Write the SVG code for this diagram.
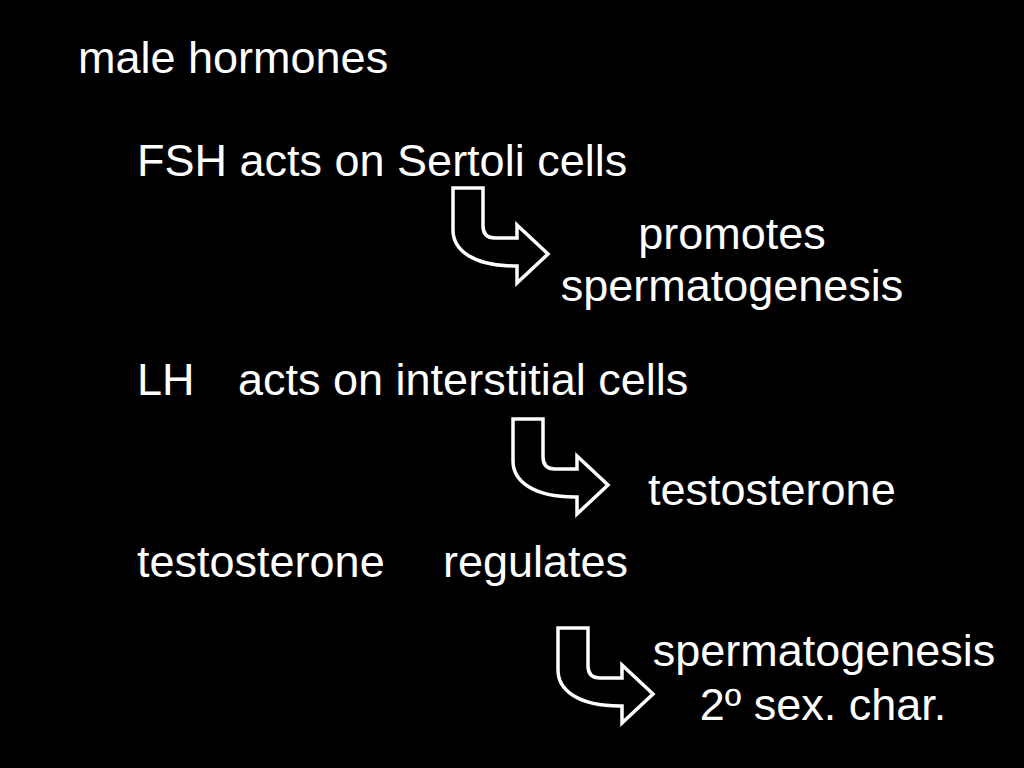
<svg xmlns="http://www.w3.org/2000/svg" width="1024" height="768" viewBox="0 0 1024 768">
<defs>
<style>
text{font-family:"Liberation Sans",Arial,sans-serif;font-size:45px;fill:#fff}
.c{text-anchor:middle}
.arr{fill:none;stroke:#fff;stroke-width:3.5;stroke-linejoin:miter}
</style>
<path id="bent" d="M0,0 H30 V38 Q30,50 42,50 H64 V37 L95,66 L64,95 V78 H62 C20,78 0,62 0,42 Z"/>
</defs>
<rect width="1024" height="768" fill="#000"/>
<g id="title"><text x="78" y="73">male hormones</text></g>
<g id="fsh"><text x="137" y="176">FSH acts on Sertoli cells</text></g>
<g id="promotes"><text class="c" x="732" y="249">promotes</text><text class="c" x="732" y="301">spermatogenesis</text></g>
<g id="lh"><text x="137" y="395">LH</text><text x="238" y="395">acts on interstitial cells</text></g>
<g id="testo1"><text x="648" y="505">testosterone</text></g>
<g id="testo2"><text x="137" y="577">testosterone</text><text x="443" y="577">regulates</text></g>
<g id="effects"><text class="c" x="824" y="666">spermatogenesis</text><text class="c" x="823" y="720">2º sex. char.</text></g>
<g id="connectors">
<use href="#bent" class="arr" transform="translate(453,188)"/>
<use href="#bent" class="arr" transform="translate(513,419)"/>
<use href="#bent" class="arr" transform="translate(558,628)"/>
</g>
</svg>
